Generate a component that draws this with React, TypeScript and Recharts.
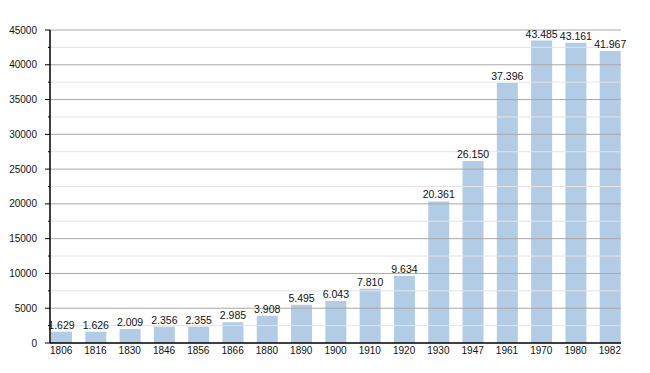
import React from 'react';
import { BarChart, Bar, XAxis, YAxis, ReferenceLine, LabelList } from 'recharts';

const years = ['1806','1816','1830','1846','1856','1866','1880','1890','1900','1910','1920','1930','1947','1961','1970','1980','1982'];
const population = [1629,1626,2009,2356,2355,2985,3908,5495,6043,7810,9634,20361,26150,37396,43485,43161,41967];
const majorTicks = [0,5000,10000,15000,20000,25000,30000,35000,40000,45000];
const minorTicks = [2500,7500,12500,17500,22500,27500,32500,37500,42500];

const data = years.map((y, i) => ({ year: y, pop: population[i] }));
const allTicks = [...majorTicks, ...minorTicks].sort((a, b) => a - b);

const fmt = (v: number) => {
  const s = String(v);
  return s.length > 3 ? s.slice(0, s.length - 3) + '.' + s.slice(s.length - 3) : s;
};

const YTick = (props: any) => {
  const { x, y, payload } = props;
  const v = payload.value as number;
  const isMajor = v % 5000 === 0;
  const ax = x + 10;
  return (
    <g>
      <line x1={ax - (isMajor ? 5 : 2)} x2={ax} y1={y} y2={y} stroke="#000" strokeWidth={1} />
      {isMajor && (
        <text x={x - 3} y={y} dy={3.5} textAnchor="end" fontSize={10} fill="#111" fontFamily="Liberation Sans, Arial, sans-serif">
          {v}
        </text>
      )}
    </g>
  );
};

export default function App() {
  return (
    <div style={{ position: 'absolute', left: 0, top: 0, background: '#fff' }}>
      <BarChart width={650} height={373} data={data} margin={{ top: 30, right: 29, bottom: 0, left: 0 }}>
        {minorTicks.map((t) => (
          <ReferenceLine key={'m' + t} y={t} stroke="#e4e4e4" strokeWidth={1} />
        ))}
        {majorTicks.slice(1).map((t) => (
          <ReferenceLine key={'M' + t} y={t} stroke="#a8a8a8" strokeWidth={1} />
        ))}
        <XAxis
          dataKey="year"
          height={30}
          tickLine={false}
          tickSize={3}
          tickMargin={1}
          axisLine={{ stroke: '#000', strokeWidth: 1.5 }}
          padding={{ left: -6, right: -6 }}
          interval={0}
          tick={{ fontSize: 10, fill: '#111', fontFamily: 'Liberation Sans, Arial, sans-serif' }}
        />
        <YAxis
          width={50}
          domain={[0, 45000]}
          ticks={allTicks}
          interval={0}
          tickLine={false}
          tickSize={5}
          tickMargin={5}
          axisLine={{ stroke: '#000', strokeWidth: 1.5 }}
          tick={<YTick />}
        />
        <Bar dataKey="pop" fill="#b3cce6" barSize={21} isAnimationActive={false}>
          <LabelList
            dataKey="pop"
            position="top"
            offset={3}
            formatter={(v: any) => fmt(Number(v))}
            style={{ fontSize: 10.5, fill: '#111', fontFamily: 'Liberation Sans, Arial, sans-serif' }}
          />
        </Bar>
      </BarChart>
    </div>
  );
}
